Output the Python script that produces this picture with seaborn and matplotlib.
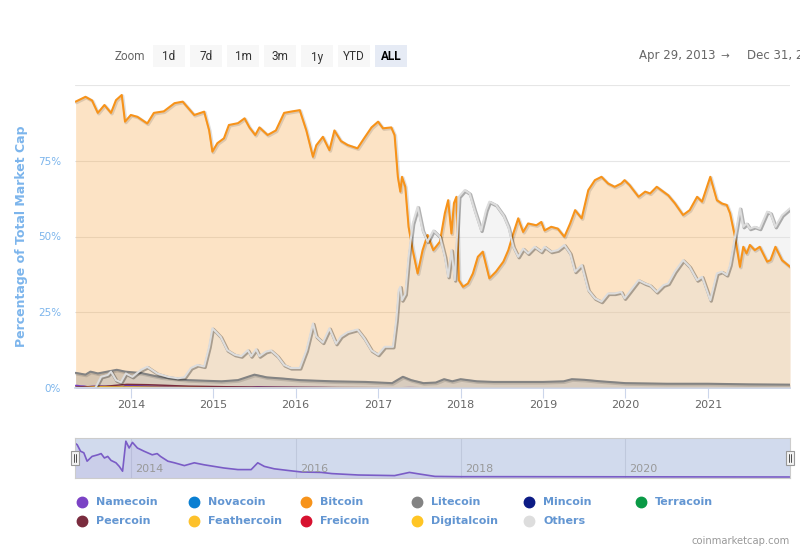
import matplotlib
matplotlib.use("Agg")
import matplotlib.pyplot as plt
import matplotlib.patheffects as pe
from matplotlib.patches import Rectangle
from matplotlib.lines import Line2D
import seaborn as sns

# Share of total crypto market cap (%); x is the decimal year
btc_year = [2013.33, 2013.45, 2013.53, 2013.60, 2013.68, 2013.76, 2013.82, 2013.89, 2013.93, 2014.00,
            2014.08, 2014.20, 2014.28, 2014.40, 2014.53, 2014.63, 2014.77, 2014.89, 2014.95, 2014.99,
            2015.05, 2015.13, 2015.19, 2015.30, 2015.38, 2015.44, 2015.51, 2015.56, 2015.66, 2015.76,
            2015.86, 2015.96, 2016.05, 2016.13, 2016.21, 2016.25, 2016.33, 2016.41, 2016.47, 2016.55,
            2016.63, 2016.75, 2016.83, 2016.92, 2017.00, 2017.06, 2017.16, 2017.20, 2017.24, 2017.27,
            2017.29, 2017.33, 2017.37, 2017.42, 2017.48, 2017.54, 2017.60, 2017.67, 2017.75, 2017.81,
            2017.85, 2017.89, 2017.92, 2017.95, 2017.98, 2018.03, 2018.09, 2018.15, 2018.21, 2018.27,
            2018.35, 2018.43, 2018.52, 2018.58, 2018.64, 2018.70, 2018.76, 2018.82, 2018.92, 2018.98,
            2019.02, 2019.10, 2019.18, 2019.26, 2019.33, 2019.39, 2019.47, 2019.55, 2019.63, 2019.71,
            2019.79, 2019.87, 2019.95, 2019.99, 2020.05, 2020.16, 2020.24, 2020.30, 2020.38, 2020.46,
            2020.52, 2020.60, 2020.70, 2020.78, 2020.87, 2020.93, 2021.03, 2021.11, 2021.17, 2021.23,
            2021.27, 2021.33, 2021.39, 2021.43, 2021.47, 2021.51, 2021.57, 2021.63, 2021.72, 2021.76,
            2021.82, 2021.90, 2021.997]
btc_share = [94.5, 96.1, 94.9, 90.8, 93.4, 90.8, 95.0, 96.7, 87.9, 90.1,
             89.5, 87.3, 90.8, 91.3, 94.0, 94.5, 90.1, 91.2, 85.1, 78.0,
             80.8, 82.4, 86.8, 87.4, 89.0, 86.0, 83.5, 86.0, 83.5, 85.0,
             90.8, 91.3, 91.7, 85.0, 76.3, 80.1, 82.9, 78.5, 85.0, 81.5,
             80.2, 79.1, 82.4, 86.0, 87.9, 85.7, 86.0, 83.5, 69.7, 64.8,
             69.7, 66.4, 53.2, 45.5, 37.8, 45.5, 50.5, 45.5, 48.3, 57.7,
             62.0, 51.0, 61.0, 63.1, 35.6, 33.4, 34.5, 37.8, 43.3, 45.0,
             36.2, 38.4, 41.7, 45.5, 51.0, 56.0, 51.5, 54.3, 53.7, 54.8,
             52.0, 53.2, 52.6, 49.9, 54.3, 58.7, 56.0, 65.3, 68.6, 69.7,
             67.5, 66.4, 67.5, 68.6, 67.0, 63.1, 64.8, 64.2, 66.4, 64.8,
             63.6, 61.0, 57.1, 58.7, 63.1, 61.5, 69.7, 62.0, 60.9, 60.4,
             57.7, 49.9, 40.0, 46.6, 44.4, 47.2, 45.5, 46.6, 41.7, 42.2,
             46.6, 42.2, 40.0]

oth_year = [2013.33, 2013.57, 2013.64, 2013.72, 2013.76, 2013.82, 2013.88, 2013.94, 2014.02, 2014.12,
            2014.20, 2014.32, 2014.45, 2014.57, 2014.65, 2014.73, 2014.81, 2014.89, 2014.95, 2014.99,
            2015.03, 2015.09, 2015.17, 2015.26, 2015.34, 2015.42, 2015.46, 2015.52, 2015.56, 2015.64,
            2015.70, 2015.78, 2015.86, 2015.94, 2016.05, 2016.13, 2016.21, 2016.25, 2016.33, 2016.41,
            2016.49, 2016.55, 2016.63, 2016.75, 2016.83, 2016.92, 2017.00, 2017.08, 2017.18, 2017.22,
            2017.25, 2017.27, 2017.29, 2017.33, 2017.37, 2017.42, 2017.48, 2017.54, 2017.60, 2017.67,
            2017.75, 2017.81, 2017.85, 2017.89, 2017.93, 2017.98, 2018.05, 2018.11, 2018.17, 2018.25,
            2018.31, 2018.35, 2018.43, 2018.52, 2018.58, 2018.64, 2018.70, 2018.76, 2018.82, 2018.90,
            2018.98, 2019.02, 2019.10, 2019.18, 2019.26, 2019.33, 2019.39, 2019.47, 2019.55, 2019.63,
            2019.71, 2019.79, 2019.87, 2019.95, 2019.99, 2020.05, 2020.16, 2020.24, 2020.30, 2020.38,
            2020.46, 2020.52, 2020.60, 2020.70, 2020.78, 2020.87, 2020.93, 2021.03, 2021.11, 2021.17,
            2021.23, 2021.27, 2021.33, 2021.39, 2021.43, 2021.47, 2021.51, 2021.57, 2021.63, 2021.72,
            2021.76, 2021.82, 2021.90, 2021.997]
oth_share = [0.0, 0.0, 3.7, 4.3, 5.4, 2.6, 1.9, 4.8, 3.7, 5.9,
             7.0, 4.8, 3.7, 3.2, 3.5, 6.6, 7.6, 7.1, 13.6, 19.7,
             18.6, 16.9, 12.5, 11.0, 10.5, 12.5, 10.5, 12.8, 10.5, 12.0,
             12.4, 10.5, 7.6, 6.6, 6.6, 12.4, 21.3, 17.0, 15.0, 19.7,
             14.6, 17.0, 18.4, 19.3, 16.5, 12.4, 11.0, 13.6, 13.6, 22.4,
             32.3, 33.4, 29.0, 31.0, 43.3, 54.3, 59.8, 52.0, 48.3, 52.0,
             49.9, 43.3, 36.7, 45.5, 35.6, 63.1, 65.3, 64.2, 58.7, 52.0,
             58.7, 61.5, 60.4, 57.0, 53.2, 46.6, 43.3, 46.0, 44.4, 46.6,
             45.0, 46.6, 45.0, 45.5, 47.2, 44.4, 38.4, 40.6, 32.3, 29.6,
             28.5, 31.2, 31.2, 31.7, 29.6, 31.7, 35.6, 34.5, 33.9, 31.7,
             33.9, 34.5, 38.4, 42.2, 40.0, 35.6, 36.7, 29.0, 37.8, 38.4,
             37.3, 40.6, 49.9, 59.3, 53.2, 54.3, 52.6, 53.2, 52.6, 58.2,
             57.7, 53.2, 57.0, 59.3]

ltc_year = [2013.33, 2013.45, 2013.51, 2013.60, 2013.83, 2013.93, 2014.13, 2014.37, 2014.69, 2015.10,
            2015.30, 2015.50, 2015.65, 2015.85, 2016.05, 2016.45, 2016.85, 2017.17, 2017.30, 2017.40,
            2017.55, 2017.70, 2017.80, 2017.90, 2018.00, 2018.20, 2018.40, 2018.80, 2019.00, 2019.25,
            2019.35, 2019.50, 2019.70, 2020.00, 2020.50, 2021.00, 2021.50, 2021.997]
ltc_share = [5.0, 4.4, 5.4, 4.8, 6.0, 5.4, 4.9, 3.5, 2.6, 2.2,
             2.6, 4.4, 3.5, 3.1, 2.6, 2.2, 2.0, 1.6, 3.7, 2.6,
             1.6, 1.8, 2.9, 2.2, 2.9, 2.2, 2.0, 2.0, 2.0, 2.2,
             2.9, 2.7, 2.2, 1.6, 1.4, 1.4, 1.2, 1.1]

nmc_year = [2013.33, 2013.35, 2013.39, 2013.43, 2013.47, 2013.53, 2013.60, 2013.64, 2013.68, 2013.72,
            2013.76, 2013.82, 2013.86, 2013.90, 2013.94, 2013.98, 2014.02, 2014.08, 2014.16, 2014.26,
            2014.32, 2014.36, 2014.45, 2014.53, 2014.65, 2014.77, 2014.89, 2015.01, 2015.13, 2015.30,
            2015.46, 2015.54, 2015.62, 2015.74, 2015.90, 2016.07, 2016.31, 2016.44, 2016.76, 2017.20,
            2017.38, 2017.50, 2017.69, 2018.00, 2018.62, 2021.997]
nmc_share = [0.86, 0.83, 0.67, 0.63, 0.42, 0.54, 0.58, 0.61, 0.50, 0.54,
             0.44, 0.38, 0.29, 0.17, 0.92, 0.75, 0.89, 0.75, 0.67, 0.58,
             0.61, 0.54, 0.42, 0.38, 0.31, 0.38, 0.33, 0.29, 0.25, 0.21,
             0.21, 0.38, 0.29, 0.23, 0.19, 0.15, 0.14, 0.11, 0.075, 0.06,
             0.14, 0.10, 0.04, 0.033, 0.033, 0.025]

ppc_year = [2013.33, 2013.70, 2013.95, 2014.20, 2014.70, 2015.50, 2016.50, 2018.00, 2021.997]
ppc_share = [0.3, 0.6, 1.2, 1.1, 0.6, 0.3, 0.15, 0.05, 0.02]

small_year = [2013.33, 2013.60, 2014.00, 2015.00, 2016.00, 2018.00, 2021.997]
nvc_share = [0.00, 0.15, 0.10, 0.03, 0.01, 0.00, 0.00]
mnc_share = [0.00, 0.02, 0.01, 0.00, 0.00, 0.00, 0.00]
trc_share = [0.00, 0.10, 0.06, 0.02, 0.01, 0.00, 0.00]
ftc_share = [0.00, 0.35, 0.30, 0.10, 0.05, 0.02, 0.01]
frc_share = [0.00, 0.05, 0.03, 0.01, 0.00, 0.00, 0.00]
dgc_share = [0.00, 0.20, 0.15, 0.05, 0.02, 0.01, 0.01]

coin_names = ['Namecoin', 'Novacoin', 'Bitcoin', 'Litecoin', 'Mincoin', 'Terracoin',
              'Peercoin', 'Feathercoin', 'Freicoin', 'Digitalcoin', 'Others']
coin_colors = ['#7b42c5', '#0a7fd2', '#f7931a', '#838383', '#0c1b85', '#0a9a46',
               '#7a2c3e', '#fdc12b', '#d7112f', '#ffc524', '#dddddd']
coin_data = [(nmc_year, nmc_share), (small_year, nvc_share), (btc_year, btc_share),
             (ltc_year, ltc_share), (small_year, mnc_share), (small_year, trc_share),
             (ppc_year, ppc_share), (small_year, ftc_share), (small_year, frc_share),
             (small_year, dgc_share), (oth_year, oth_share)]

year_ticks = [2014, 2015, 2016, 2017, 2018, 2019, 2020, 2021]
nav_ticks = [2014, 2016, 2018, 2020]
pct_ticks = [0, 25, 50, 75, 100]
pct_labels = ['0%', '25%', '50%', '75%', '']
zoom_buttons = ['1d', '7d', '1m', '3m', '1y', 'YTD', 'ALL']
x_start, x_end = 2013.323, 2021.997

sns.set_theme(style="white")
plt.rcParams['font.family'] = ['DejaVu Sans']

W, H = 800, 550
fig = plt.figure(figsize=(W / 100, H / 100), dpi=100)


def fbox(left, top, right, bottom):
    # pixel box -> figure fraction rect
    return [left / W, 1 - bottom / H, (right - left) / W, (bottom - top) / H]


# main chart
ax = fig.add_axes(fbox(75, 85, 790, 388))
ax.set_axisbelow(True)
ax.grid(axis='y', color='#e6e6e6', lw=0.8)
ax.grid(axis='x', visible=False)

for name, color, (xs, ys) in zip(coin_names, coin_colors, coin_data):
    alpha = 0.25 if name == 'Bitcoin' else 0.3
    ax.fill_between(xs, ys, color=color, alpha=alpha, lw=0)
    lw = 1.5 if name in ('Bitcoin', 'Others', 'Litecoin') else 1.0
    sns.lineplot(x=xs, y=ys, ax=ax, color=color, lw=lw, legend=False)
    shade = 0.3 if name == 'Others' else 0.12
    ax.lines[-1].set_path_effects([
        pe.SimpleLineShadow(offset=(0.7, -0.7), shadow_color='#000000', alpha=shade, linewidth=2.4),
        pe.Normal()])

ax.set_xlim(x_start, x_end)
ax.set_ylim(0, 100)
ax.set_xticks(year_ticks)
ax.set_xticklabels([str(y) for y in year_ticks])
ax.set_yticks(pct_ticks)
ax.set_yticklabels(pct_labels)
ax.set_xlabel('')
ax.set_ylabel('')
for s in ['top', 'right', 'left']:
    ax.spines[s].set_visible(False)
ax.spines['bottom'].set_color('#ccd6eb')
ax.tick_params(axis='x', bottom=True, length=7, width=0.8, color='#ccd6eb',
               labelsize=8, labelcolor='#666666', pad=2)
ax.tick_params(axis='y', left=False, length=0, labelsize=7.5, labelcolor='#7cb5ec', pad=10)

fig.text(22 / W, 1 - 236 / H, 'Percentage of Total Market Cap', rotation=90,
         ha='center', va='center', fontsize=9, color='#7cb5ec', fontweight='bold')

# range selector row
fig.text(115 / W, 1 - 57 / H, 'Zoom', ha='left', va='center', fontsize=8.5, color='#666666',
         family='Roboto')
for i, label in enumerate(zoom_buttons):
    left = 153 + 37 * i
    selected = label == 'ALL'
    fig.add_artist(Rectangle((left / W, 1 - 67 / H), 32 / W, 22 / H, transform=fig.transFigure,
                             fc='#e6ebf5' if selected else '#f7f7f7', ec='none'))
    fig.text((left + 16) / W, 1 - 57 / H, label, ha='center', va='center', fontsize=8.5,
             color='#000000' if selected else '#333333', family='Roboto',
             fontweight='bold' if selected else 'normal')
fig.text(639 / W, 1 - 56 / H, 'Apr 29, 2013', ha='left', va='center', fontsize=8.5,
         color='#666666')
fig.text(725 / W, 1 - 56 / H, '\u2192', ha='center', va='center', fontsize=7.5, color='#666666')
fig.text(747 / W, 1 - 56 / H, 'Dec 31, 2021', ha='left', va='center', fontsize=8.5,
         color='#666666')

# navigator
nav = fig.add_axes(fbox(75, 438, 790, 478))
nav.set_facecolor('#d1daed')
nav.fill_between(nmc_year, nmc_share, color='#7b42c5', alpha=0.08, lw=0)
sns.lineplot(x=nmc_year, y=nmc_share, ax=nav, color='#7a5cc6', lw=1.2, legend=False)
nav.set_xlim(x_start, x_end)
nav.set_ylim(0, 1.0)
nav.set_xticks(nav_ticks)
nav.set_yticks([])
nav.grid(axis='x', color='#bfc8dc', lw=0.8)
nav.tick_params(axis='x', length=0, labelbottom=False)
nav.set_xlabel('')
nav.set_ylabel('')
for s in nav.spines.values():
    s.set_color('#cccccc')
    s.set_linewidth(0.8)
for y in nav_ticks:
    nav.annotate(str(y), (y, 0), xytext=(3, 3), textcoords='offset points', ha='left',
                 va='bottom', fontsize=8, color='#999999')

for hx in (75, 790):
    fig.add_artist(Rectangle(((hx - 4) / W, 1 - 465 / H), 8 / W, 14 / H, transform=fig.transFigure,
                             fc='#f2f2f2', ec='#999999', lw=0.8, zorder=5))
    for dx in (-1.2, 1.2):
        fig.add_artist(Line2D([(hx + dx) / W] * 2, [1 - 462 / H, 1 - 454 / H],
                              transform=fig.transFigure, color='#333333', lw=0.6, zorder=6))

# legend (two rows of six fixed-width items)
for i, (name, color) in enumerate(zip(coin_names, coin_colors)):
    col, row = i % 6, i // 6
    mx = 82 + 111.8 * col
    my = 502 + 18.5 * row
    fig.add_artist(Line2D([mx / W], [1 - my / H], transform=fig.transFigure, marker='o',
                          markersize=7.5, color=color, lw=0))
    fig.text((mx + 14) / W, 1 - my / H, name, ha='left', va='center', fontsize=8,
             fontweight='bold', color='#6396d2')

fig.text(790 / W, 1 - 541 / H, 'coinmarketcap.com', ha='right', va='center', fontsize=7.2,
         color='#999999')

fig.savefig('out.png', dpi=100)
